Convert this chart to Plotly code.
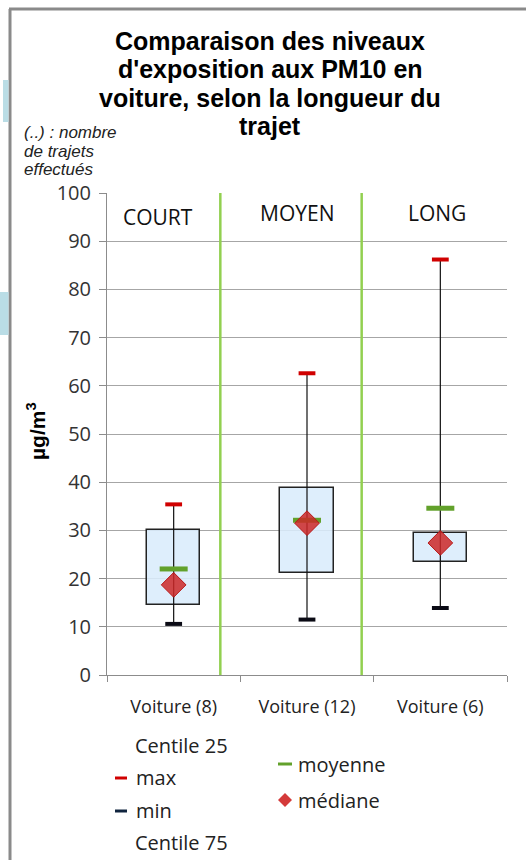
import plotly.graph_objects as go

# Trip categories (number of trips in brackets)
categories = ["Voiture (8)", "Voiture (12)", "Voiture (6)"]
sections = ["COURT", "MOYEN", "LONG"]

# PM10 exposure statistics, µg/m3
p25 = [14.5, 21.1, 23.4]
p75 = [30.0, 38.7, 29.5]
val_max = [35.4, 62.6, 86.2]
val_min = [10.6, 11.5, 13.9]
mean = [22.0, 32.1, 34.6]
median = [18.7, 31.5, 27.4]

y_ticks = [0, 10, 20, 30, 40, 50, 60, 70, 80, 90, 100]

W, H = 526, 860
L, R, T, B = 107, 19, 193, 185
PW, PH = W - L - R, H - T - B


def px(x):
    return (x - L) / PW


def py(y):
    return (H - B - y) / PH


BODY = "Open Sans"
fig = go.Figure()

# whiskers from min to max (box drawn over them)
wx, wy = [], []
for c, lo, hi in zip(categories, val_min, val_max):
    wx += [c, c, None]
    wy += [lo, hi, None]
fig.add_trace(go.Scatter(x=wx, y=wy, mode="lines",
                         line=dict(color="#111111", width=1.2),
                         hoverinfo="skip", showlegend=False))

# interquartile boxes
fig.add_trace(go.Bar(x=categories, base=p25,
                     y=[b - a for a, b in zip(p25, p75)],
                     width=0.4,
                     marker=dict(color="rgba(218,236,252,0.88)",
                                 line=dict(color="#222222", width=1.5)),
                     name="Centile 25 / 75", showlegend=False))

# max / min caps
fig.add_trace(go.Scatter(x=categories, y=val_max, mode="markers", name="max",
                         marker=dict(symbol="line-ew", size=12,
                                     line=dict(color="#D00000", width=4)),
                         showlegend=False))
fig.add_trace(go.Scatter(x=categories, y=val_min, mode="markers", name="min",
                         marker=dict(symbol="line-ew", size=12,
                                     line=dict(color="#0A0A14", width=4)),
                         showlegend=False))

# mean and median
fig.add_trace(go.Scatter(x=categories, y=mean, mode="markers", name="moyenne",
                         marker=dict(symbol="line-ew", size=20,
                                     line=dict(color="#62A12B", width=5)),
                         showlegend=False))
fig.add_trace(go.Scatter(x=categories, y=median, mode="markers", name="médiane",
                         marker=dict(symbol="diamond", size=19,
                                     color="rgba(205,40,40,0.85)",
                                     line=dict(color="#B81818", width=1)),
                         showlegend=False))

shapes = []
# green section dividers
for xd in [0.35, 1.41]:
    shapes.append(dict(type="line", xref="x", yref="y", x0=xd, x1=xd,
                       y0=-0.4, y1=100, line=dict(color="#92D050", width=2.5),
                       layer="above"))

# outer frame (left and top edges)
shapes.append(dict(type="line", xref="paper", yref="paper",
                   x0=px(10), x1=px(10), y0=py(860), y1=py(9),
                   line=dict(color="#8A8A8A", width=3)))
shapes.append(dict(type="line", xref="paper", yref="paper",
                   x0=px(9), x1=px(526), y0=py(9), y1=py(9),
                   line=dict(color="#8A8A8A", width=3)))
# pale blue tabs on the left edge
for (x0, x1, y0, y1) in [(3, 8.5, 80, 122), (0, 8.5, 292, 335)]:
    shapes.append(dict(type="rect", xref="paper", yref="paper",
                       x0=px(x0), x1=px(x1), y0=py(y1), y1=py(y0),
                       fillcolor="#BADDE6", line=dict(width=0)))

# legend symbols
shapes.append(dict(type="line", xref="paper", yref="paper",
                   x0=px(115), x1=px(127), y0=py(778), y1=py(778),
                   line=dict(color="#D00000", width=3)))
shapes.append(dict(type="line", xref="paper", yref="paper",
                   x0=px(115), x1=px(127), y0=py(811), y1=py(811),
                   line=dict(color="#10243E", width=3)))
shapes.append(dict(type="line", xref="paper", yref="paper",
                   x0=px(278), x1=px(292), y0=py(764), y1=py(764),
                   line=dict(color="#62A12B", width=3)))
dx, dy, dr = 285, 800, 7
shapes.append(dict(type="path", xref="paper", yref="paper",
                   path=f"M {px(dx - dr)} {py(dy)} L {px(dx)} {py(dy - dr)} "
                        f"L {px(dx + dr)} {py(dy)} L {px(dx)} {py(dy + dr)} Z",
                   fillcolor="#D43A3A", line=dict(width=0)))

annotations = []
title_lines = ["Comparaison des niveaux", "d'exposition aux PM10 en",
               "voiture, selon la longueur du", "trajet"]
for i, line in enumerate(title_lines):
    annotations.append(dict(text=f"<b>{line}</b>", x=px(270), y=py(41 + 28.3 * i),
                            xref="paper", yref="paper", showarrow=False,
                            xanchor="center", yanchor="middle",
                            font=dict(family="Liberation Sans", size=25, color="#000000")))

for i, line in enumerate(["(..) : nombre", "de trajets", "effectués"]):
    annotations.append(dict(text=f"<i>{line}</i>", x=px(22), y=py(132 + 19 * i),
                            xref="paper", yref="paper", showarrow=False,
                            xanchor="left", yanchor="middle",
                            font=dict(family="Liberation Sans", size=17, color="#222222")))

for name, (sx, sy) in zip(sections, [(158, 217), (297, 213), (437, 213)]):
    annotations.append(dict(text=name, x=px(sx), y=py(sy), xref="paper", yref="paper",
                            showarrow=False, xanchor="center", yanchor="middle",
                            font=dict(family=BODY, size=21, color="#111111")))

annotations.append(dict(text="<b>µg/m<sup>3</sup></b>", x=px(36), y=py(431),
                        xref="paper", yref="paper", showarrow=False, textangle=-90,
                        xanchor="center", yanchor="middle",
                        font=dict(family="Liberation Sans", size=21, color="#000000")))

legend_text = [("Centile 25", 133, 745), ("max", 134, 777), ("min", 134, 810),
               ("Centile 75", 133, 842), ("moyenne", 296, 764), ("médiane", 296, 800)]
for txt, lx, ly in legend_text:
    annotations.append(dict(text=txt, x=px(lx), y=py(ly), xref="paper", yref="paper",
                            showarrow=False, xanchor="left", yanchor="middle",
                            font=dict(family=BODY, size=20, color="#222222")))

fig.update_layout(
    width=W, height=H,
    margin=dict(l=L, r=R, t=T, b=B),
    paper_bgcolor="white", plot_bgcolor="white",
    bargap=0, showlegend=False,
    shapes=shapes, annotations=annotations,
    xaxis=dict(type="category", categoryorder="array", categoryarray=categories,
               range=[-0.5, 2.5], showgrid=False,
               showline=True, linecolor="#8C8C8C", linewidth=1,
               ticks="outside", tickson="boundaries", ticklen=6, tickcolor="#8C8C8C",
               ticklabelstandoff=15,
               tickfont=dict(family=BODY, size=18, color="#222222")),
    yaxis=dict(range=[0, 100], tickvals=y_ticks, showgrid=True,
               gridcolor="#A6A6A6", gridwidth=1, zeroline=False,
               showline=True, linecolor="#8C8C8C", linewidth=1,
               ticks="outside", ticklen=7, tickcolor="#8C8C8C",
               ticklabelstandoff=4,
               tickfont=dict(family=BODY, size=20, color="#333333")),
)

fig.write_html("out.html")
